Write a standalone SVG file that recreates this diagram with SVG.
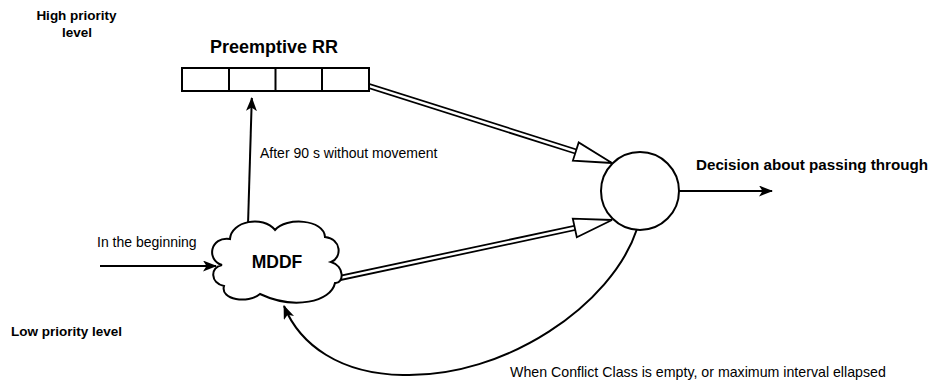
<svg xmlns="http://www.w3.org/2000/svg" width="929" height="384" viewBox="0 0 929 384">
<style>
.t{font-family:"Liberation Sans",Arial,sans-serif;fill:#000}
.b{font-weight:bold}
.s{fill:none;stroke:#000;stroke-width:2}
.n{fill:#fff;stroke:#000;stroke-width:2}
.dl{fill:none;stroke:#000;stroke-width:6}
.dw{fill:none;stroke:#fff;stroke-width:2.5}
.ah{fill:#fff;stroke:#000;stroke-width:1.8;stroke-linejoin:miter}
</style>
<defs>
<marker id="arr" markerUnits="userSpaceOnUse" markerWidth="16" markerHeight="12" refX="13" refY="5.5" orient="auto">
<path d="M0,0 L14,5.5 L0,11 L3.5,5.5 Z" fill="#000"/>
</marker>
</defs>
<rect width="929" height="384" fill="#fff"/>

<g id="labels">
<text class="t b" x="76.5" y="20" font-size="13.5" text-anchor="middle">High priority</text>
<text class="t b" x="77" y="37" font-size="13.5" text-anchor="middle">level</text>
<text class="t b" x="11" y="336" font-size="13.5">Low priority level</text>
</g>

<g id="connectors">
<path class="dl" d="M369,86 L575.8,151.5"/>
<path class="dw" d="M367,85.4 L576.5,151.7"/>
<polygon class="ah" points="612,163 578.7,142.4 572.9,160.6"/>
<path class="dl" d="M340,278 L574.8,227.9"/>
<path class="dw" d="M338,278.4 L575.5,227.8"/>
<polygon class="ah" points="612,220 572.8,218.6 576.8,237.2"/>
<path class="s" d="M248,225 L251.8,98" marker-end="url(#arr)"/>
<path class="s" d="M100,266 L216,266" marker-end="url(#arr)"/>
<path class="s" d="M679,191 L772,191" marker-end="url(#arr)"/>
<path class="s" d="M637,229 C612,305 505,378 403,375 C340,374 300,345 284,306" marker-end="url(#arr)"/>
<text class="t" x="260" y="158" font-size="14">After 90 s without movement</text>
<text class="t" x="97" y="247" font-size="14">In the beginning</text>
<text class="t" x="510" y="377" font-size="14.2">When Conflict Class is empty, or maximum interval ellapsed</text>
</g>

<g id="queue">
<rect class="n" x="182" y="68" width="187" height="23"/>
<path class="s" d="M229,68 V91 M275.5,68 V91 M322,68 V91"/>
<text class="t b" x="274" y="53" font-size="18" text-anchor="middle">Preemptive RR</text>
</g>

<g id="mddf">
<path class="n" d="M222,265 C206,260 210,236 230,239 C231,221 263,215 275,230 C286,217 324,219 325,237 C342,239 342,258 331,262 C345,266 344,284 335,283 C331,302 294,310 260,294 C248,304 220,300 224,286 C210,283 210,267 222,265 Z"/>
<text class="t b" x="277" y="268" font-size="17.5" text-anchor="middle">MDDF</text>
</g>

<g id="decision">
<circle class="n" cx="640" cy="191" r="39"/>
<text class="t b" x="696" y="170" font-size="15.2">Decision about passing through</text>
</g>
</svg>
